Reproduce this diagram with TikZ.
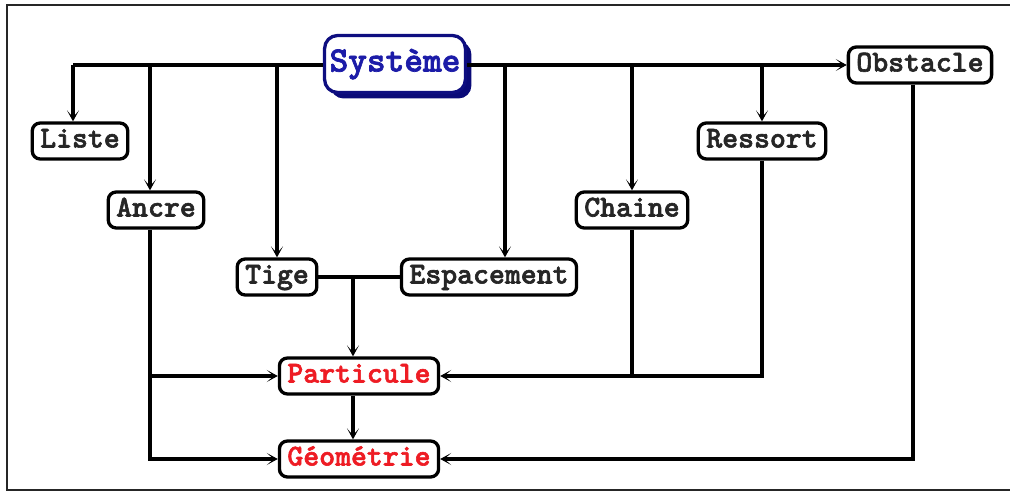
\documentclass[tikz,border=0pt]{standalone}
\usepackage{fontspec}
\newfontfamily\boxfont{lmmonolt10-bold.otf}[FakeBold=2.0]
\usetikzlibrary{arrows.meta,shadows}
\definecolor{ink}{HTML}{262626}
\definecolor{hot}{HTML}{EE1C24}
\definecolor{sysblue}{HTML}{1C1CA8}
\definecolor{sysline}{HTML}{0E0E80}
\definecolor{sysshadow}{HTML}{0A0A78}
\begin{document}
\begin{tikzpicture}[x=1pt,y=-1pt,
  box/.style={draw=black, line width=3.3pt, rounded corners=8pt, fill=white,
    font=\boxfont\fontsize{30.3}{34}\selectfont, text=ink,
    inner xsep=8pt, inner ysep=0pt, minimum height=36pt,
    text height=17pt, text depth=4pt},
  hotbox/.style={box, text=hot},
  rootbox/.style={box, draw=sysline, text=sysblue, rounded corners=13pt,
    font=\boxfont\fontsize{35.6}{38}\selectfont,
    inner xsep=5pt, minimum height=57pt, text height=20pt, text depth=5pt,
    drop shadow={shadow xshift=6pt, shadow yshift=-6pt, opacity=1, fill=sysshadow}},
  conn/.style={line width=3.1pt, draw=black},
  arr/.style={conn, -{Stealth[length=11pt,width=12pt,inset=7pt]}}]
\useasboundingbox (0,0) rectangle (1010,492);
% outer frame
\draw[line width=2.4pt, ink] (1012,5) -- (7,5) -- (7,490) -- (1012,490);

% nodes
\node[rootbox] (sys)  at (395,64)  {Système};
\node[box]     (lst)  at (80,141)  {Liste};
\node[box]     (anc)  at (156,210) {Ancre};
\node[box]     (tig)  at (277,277) {Tige};
\node[box]     (esp)  at (489,277) {Espacement};
\node[box]     (cha)  at (632,210) {Chaine};
\node[box]     (res)  at (762,141) {Ressort};
\node[box]     (obs)  at (920,65)  {Obstacle};
\node[hotbox]  (par)  at (359,376) {Particule};
\node[hotbox]  (geo)  at (359,459) {Géométrie};

% branch points on the main bus
\coordinate (jl) at (73,65);
\coordinate (ja) at (150,65);
\coordinate (jt) at (277,65);
\coordinate (je) at (505,65);
\coordinate (jc) at (632,65);
\coordinate (jr) at (762,65);
\coordinate (jm) at (353,277);
\coordinate (ox) at (913,65);

% main bus
\draw[conn] (sys.west |- jl) -- (jl);
\draw[arr] (jl) -- (jl |- lst.north);
\draw[arr] (ja) -- (ja |- anc.north);
\draw[arr] (jt) -- (jt |- tig.north);
\draw[arr] (sys.east |- je) -- (obs.west);
\draw[arr] (je) -- (je |- esp.north);
\draw[arr] (jc) -- (jc |- cha.north);
\draw[arr] (jr) -- (jr |- res.north);

% Tige / Espacement into Particule
\draw[conn] (tig.east) -- (esp.west);
\draw[arr] (jm) -- (jm |- par.north);

% Ancre into Particule and Geometrie
\draw[arr] (ja |- anc.south) -- (ja |- geo) -- (geo.west);
\draw[arr] (ja |- par) -- (par.west);

% Chaine / Ressort into Particule
\draw[conn] (jc |- cha.south) -- (jc |- par);
\draw[arr] (jr |- res.south) -- (jr |- par) -- (par.east);

% Particule into Geometrie
\draw[arr] (jm |- par.south) -- (jm |- geo.north);

% Obstacle into Geometrie
\draw[arr] (ox |- obs.south) -- (ox |- geo) -- (geo.east);
\end{tikzpicture}
\end{document}
